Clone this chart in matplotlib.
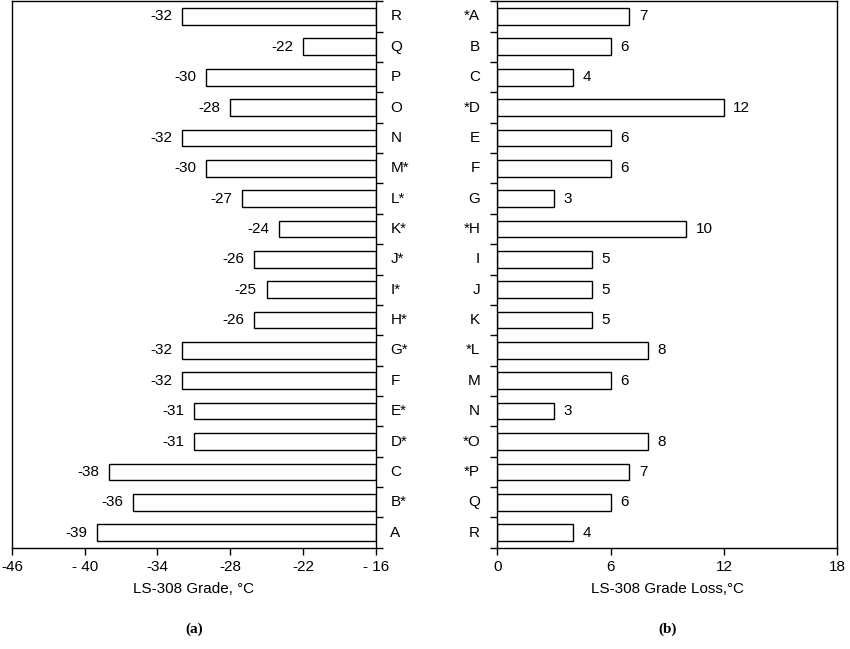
import matplotlib.pyplot as plt
import numpy as np

plt.rcParams['font.family'] = ['Liberation Sans', 'DejaVu Sans']

labels_a = ["A", "B*", "C", "D*", "E*", "F", "G*", "H*", "I*", "J*", "K*",
            "L*", "M*", "N", "O", "P", "Q", "R"]
labels_b = ["*A", "B", "C", "*D", "E", "F", "G", "*H", "I", "J", "K",
            "*L", "M", "N", "*O", "*P", "Q", "R"]
grade = [-32, -22, -30, -28, -32, -30, -27, -24, -26, -25, -26,
         -32, -32, -31, -31, -38, -36, -39]
loss = [7, 6, 4, 12, 6, 6, 3, 10, 5, 5, 5, 8, 6, 3, 8, 7, 6, 4]

fig = plt.figure(figsize=(8.5, 6.49), dpi=100)
ax1 = fig.add_axes([0.014, 0.156, 0.428, 0.842])
ax2 = fig.add_axes([0.585, 0.156, 0.400, 0.842])
y = np.arange(len(grade))

# (a) grade, bars grow leftward from -16
ax1.barh(y, np.array(grade) + 16, left=-16, height=0.55,
         color='white', edgecolor='black', linewidth=1)
for yi, v in zip(y, grade):
    ax1.text(v - 0.8, yi, str(v), ha='right', va='center', fontsize=11)
ax1.set_xlim(-46, -16)
ax1.set_xticks([-46, -40, -34, -28, -22, -16])
ax1.set_xticklabels(["-46", "- 40", "-34", "-28", "-22", "- 16"], fontsize=11)
ax1.set_ylim(17.5, -0.5)
ax1.yaxis.tick_right()
ax1.set_yticks(np.arange(-0.5, 18, 1))
ax1.set_yticklabels([])
for yi, l in zip(y, labels_a):
    ax1.text(1.04, (yi + 0.5) / 18, l, transform=ax1.transAxes,
             ha='left', va='center', fontsize=11)
ax1.set_xlabel("LS-308 Grade, °C", fontsize=11, labelpad=6)

# (b) grade loss
ax2.barh(y, loss, height=0.55, color='white', edgecolor='black', linewidth=1)
for yi, v in zip(y, loss):
    ax2.text(v + 0.5, yi, str(v), ha='left', va='center', fontsize=11)
ax2.set_xlim(0, 18)
ax2.set_xticks([0, 6, 12, 18])
ax2.tick_params(axis='x', labelsize=11)
ax2.set_ylim(17.5, -0.5)
ax2.set_yticks(np.arange(-0.5, 18, 1))
ax2.set_yticklabels([])
for yi, l in zip(y, labels_b):
    ax2.text(-0.05, (17.5 - yi) / 18, l, transform=ax2.transAxes,
             ha='right', va='center', fontsize=11)
ax2.set_xlabel("LS-308 Grade Loss,°C", fontsize=11, labelpad=6)

for ax in (ax1, ax2):
    ax.tick_params(direction='out', length=5, width=1)
    for s in ax.spines.values():
        s.set_linewidth(1)

fig.text(0.228, 0.025, "(a)", ha='center', fontsize=11, fontweight='bold',
         family='Liberation Serif')
fig.text(0.785, 0.025, "(b)", ha='center', fontsize=11, fontweight='bold',
         family='Liberation Serif')

fig.savefig("out.png", dpi=100)
